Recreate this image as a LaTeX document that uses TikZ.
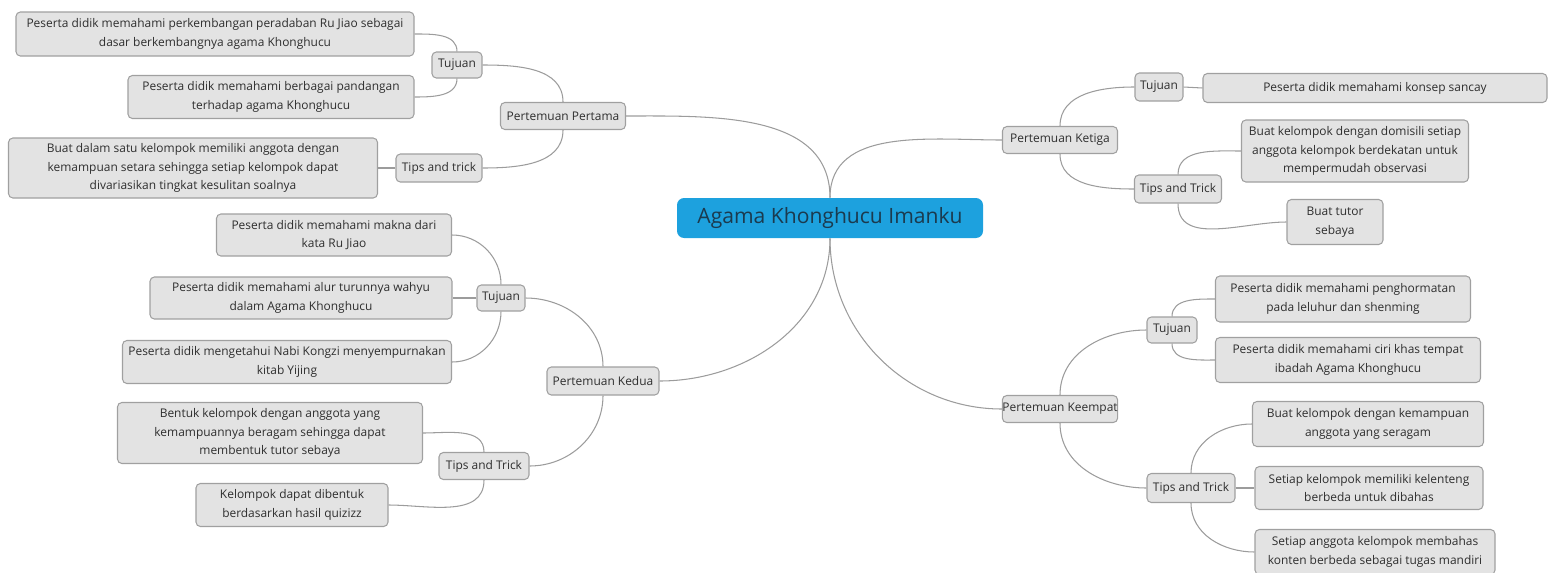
\documentclass[tikz,border=0pt]{standalone}
\usepackage{fontspec}
\setmainfont{Open Sans}
\definecolor{boxfill}{HTML}{E3E3E3}
\definecolor{boxline}{HTML}{A0A0A0}
\definecolor{wire}{HTML}{9C9C9C}
\definecolor{inkgray}{HTML}{2E2E2E}
\definecolor{rootblue}{HTML}{1DA1DE}
\definecolor{rootink}{HTML}{1B3A4E}
\begin{document}
\begin{tikzpicture}[x=0.02cm,y=0.02cm,
  sz/.style 2 args={minimum width=#1*0.02cm, minimum height=#2*0.02cm},
  topic/.style={draw=boxline, fill=boxfill, rounded corners=2.5pt, line width=0.6pt,
    text=inkgray, font=\fontsize{6.8}{10.6}\selectfont, align=center, inner sep=0pt},
  rootbox/.style={fill=rootblue, rounded corners=4pt, text=rootink,
    font=\fontsize{12}{14}\selectfont, inner sep=0pt},
  wire/.style={draw=wire, line width=0.6pt}]
\useasboundingbox (0,0) rectangle (1549,-572);
%\draw[help lines,step=50] (0,0) grid (1549,-572);

\node[rootbox, sz={306}{40}] (root) at (830,-218) {Agama Khonghucu Imanku};

% Pertemuan Pertama
\node[topic, sz={125}{27}] (p1) at (563,-116) {Pertemuan Pertama};
\node[topic, sz={50}{26}] (t1) at (457,-65) {Tujuan};
\node[topic, sz={398}{44}] (a1) at (215,-34) {Peserta didik memahami perkembangan peradaban Ru Jiao sebagai\\dasar berkembangnya agama Khonghucu};
\node[topic, sz={286}{43}] (b1) at (271,-97) {Peserta didik memahami berbagai pandangan\\terhadap agama Khonghucu};
\node[topic, sz={86}{28}] (k1) at (439,-168) {Tips and trick};
\node[topic, sz={369}{60}] (c1) at (193,-168) {Buat dalam satu kelompok memiliki anggota dengan\\kemampuan setara sehingga setiap kelompok dapat\\divariasikan tingkat kesulitan soalnya};

% Pertemuan Kedua
\node[topic, sz={112}{28}] (p2) at (603,-381) {Pertemuan Kedua};
\node[topic, sz={48}{26}] (t2) at (501,-298) {Tujuan};
\node[topic, sz={235}{42}] (a2) at (334,-235) {Peserta didik memahami makna dari\\kata Ru Jiao};
\node[topic, sz={302}{42}] (b2) at (301,-298) {Peserta didik memahami alur turunnya wahyu\\dalam Agama Khonghucu};
\node[topic, sz={329}{43}] (c2) at (287,-362) {Peserta didik mengetahui Nabi Kongzi menyempurnakan\\kitab Yijing};
\node[topic, sz={90}{27}] (k2) at (484,-466) {Tips and Trick};
\node[topic, sz={305}{61}] (d2) at (270,-433) {Bentuk kelompok dengan anggota yang\\kemampuannya beragam sehingga dapat\\membentuk tutor sebaya};
\node[topic, sz={192}{43}] (e2) at (292,-505) {Kelompok dapat dibentuk\\berdasarkan hasil quizizz};

% Pertemuan Ketiga
\node[topic, sz={115}{27}] (p3) at (1060,-140) {Pertemuan Ketiga};
\node[topic, sz={48}{28}] (t3) at (1159,-87) {Tujuan};
\node[topic, sz={344}{29}] (a3) at (1375,-88) {Peserta didik memahami konsep sancay};
\node[topic, sz={87}{28}] (k3) at (1178,-189) {Tips and Trick};
\node[topic, sz={227}{62}] (b3) at (1355,-151) {Buat kelompok dengan domisili setiap\\anggota kelompok berdekatan untuk\\mempermudah observasi};
\node[topic, sz={96}{45}] (c3) at (1335,-222) {Buat tutor\\sebaya};

% Pertemuan Keempat
\node[topic, sz={115}{27}] (p4) at (1060,-409) {Pertemuan Keempat};
\node[topic, sz={50}{26}] (t4) at (1172,-330) {Tujuan};
\node[topic, sz={255}{46}] (a4) at (1343,-299) {Peserta didik memahami penghormatan\\pada leluhur dan shenming};
\node[topic, sz={265}{45}] (b4) at (1348,-360) {Peserta didik memahami ciri khas tempat\\ibadah Agama Khonghucu};
\node[topic, sz={88}{29}] (k4) at (1191,-488) {Tips and Trick};
\node[topic, sz={231}{45}] (c4) at (1368,-424) {Buat kelompok dengan kemampuan\\anggota yang seragam};
\node[topic, sz={228}{43}] (d4) at (1369,-488) {Setiap kelompok memiliki kelenteng\\berbeda untuk dibahas};
\node[topic, sz={240}{45}] (e4) at (1375,-552) {Setiap anggota kelompok membahas\\konten berbeda sebagai tugas mandiri};

% connectors
\draw[wire] (root.north) to[out=90,in=0] (p1.east);
\draw[wire] (root.north) to[out=90,in=180] (p3.west);
\draw[wire] (root.south) to[out=-90,in=0] (p2.east);
\draw[wire] (root.south) to[out=-90,in=180] (p4.west);
\foreach \s/\t in {p1/t1, t1/a1, p2/t2, t2/a2, k2/d2}
  \draw[wire] (\s.north) to[out=90,in=0] (\t.east);
\foreach \s/\t in {p1/k1, t1/b1, p2/k2, t2/c2, k2/e2}
  \draw[wire] (\s.south) to[out=-90,in=0] (\t.east);
\foreach \s/\t in {p3/t3, k3/b3, p4/t4, t4/a4, k4/c4}
  \draw[wire] (\s.north) to[out=90,in=180] (\t.west);
\foreach \s/\t in {p3/k3, k3/c3, p4/k4, t4/b4, k4/e4}
  \draw[wire] (\s.south) to[out=-90,in=180] (\t.west);
\foreach \s/\t in {k1/c1, t2/b2}
  \draw[wire] (\s.west) -- (\t.east);
\foreach \s/\t in {t3/a3, k4/d4}
  \draw[wire] (\s.east) -- (\t.west);
\end{tikzpicture}
\end{document}
